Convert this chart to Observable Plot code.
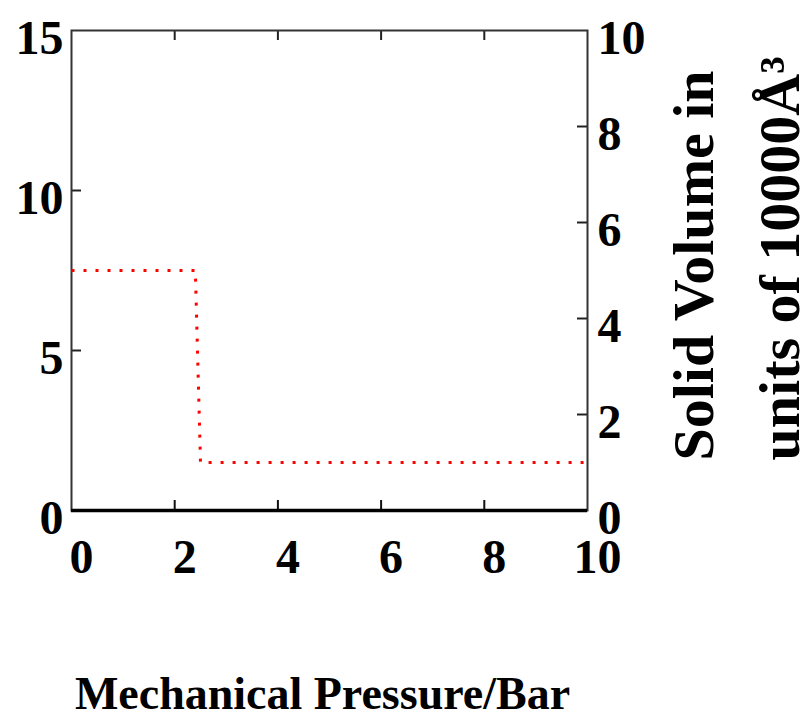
<!DOCTYPE html>
<html>
<head>
<meta charset="utf-8">
<script src="https://cdn.jsdelivr.net/npm/d3@7"></script>
<script src="https://cdn.jsdelivr.net/npm/@observablehq/plot@0.6"></script>
<style>
  html, body { margin: 0; padding: 0; background: #fff; }
  svg { display: block; }
</style>
</head>
<body>
<div id="chart"></div>
<script>
// Data (x: mechanical pressure in bar, volume: right axis units)
const pressure = [0, 2.4, 2.5, 10];
const solidVolume = [5, 5, 1, 1];

// Tick values
const xTicks = [0, 2, 4, 6, 8, 10];
const xInnerTicks = [2, 4, 6, 8];
const leftTicks = [0, 5, 10, 15];
const leftInnerTicks = [5, 10];
const rightTicks = [0, 2, 4, 6, 8, 10];
const rightInnerTicks = [2, 4, 6, 8];

// Left axis spans 0–15, right axis 0–10
const RATIO = 15 / 10;

const xLabel = "Mechanical Pressure/Bar";
const rightLabel = "Solid Volume in\nunits of 10000Å³";

const data = pressure.map((p, i) => ({p, v: solidVolume[i]}));

const font = "'Liberation Serif', 'Times New Roman', serif";
const tickLen = 10;
const plotW = 803 - 71 - 216;
const plotH = 711 - 30 - 201;

const chart = Plot.plot({
  width: 803,
  height: 711,
  marginLeft: 71,
  marginRight: 216,
  marginTop: 30,
  marginBottom: 201,
  style: {fontFamily: font, fontWeight: "bold", color: "#000", background: "#fff"},
  x: {domain: [0, 10], axis: null},
  y: {domain: [0, 15], axis: null},
  marks: [
    // inward ticks
    Plot.tickY(leftInnerTicks, {y: d => d, insetRight: plotW - tickLen, stroke: "#222", strokeWidth: 2}),
    Plot.tickY(rightInnerTicks, {y: d => d * RATIO, insetLeft: plotW - tickLen, stroke: "#222", strokeWidth: 2}),
    Plot.tickX(xInnerTicks, {x: d => d, insetBottom: plotH - tickLen, stroke: "#222", strokeWidth: 2}),
    Plot.tickX(xInnerTicks, {x: d => d, insetTop: plotH - tickLen, stroke: "#111", strokeWidth: 2}),
    Plot.frame({stroke: "#333", strokeWidth: 2}),
    Plot.ruleY([0], {stroke: "#000", strokeWidth: 3.5}),
    // tick labels
    Plot.axisY(leftTicks, {anchor: "left", tickSize: 0, tickPadding: 8, dy: 8, fontSize: 48, fontWeight: "bold", label: null}),
    Plot.axisY(rightTicks.map(d => d * RATIO), {anchor: "right", tickSize: 0, tickPadding: 10, dy: 8, fontSize: 48, fontWeight: "bold", label: null, tickFormat: d => String(Math.round(d / RATIO))}),
    Plot.axisX(xTicks, {anchor: "bottom", tickSize: 0, tickPadding: 28, dx: 10, fontSize: 48, fontWeight: "bold", label: null}),
    // data
    Plot.line(data, {x: "p", y: d => d.v * RATIO, stroke: "#ff0000", strokeWidth: 3, strokeDasharray: "3,9", strokeLinecap: "butt", curve: "linear"}),
    // axis titles
    Plot.text([xLabel], {text: d => d, frameAnchor: "bottom", lineAnchor: "bottom", dy: 198, dx: -7, fontSize: 46, fontWeight: "bold", fill: "#000"}),
    Plot.text([rightLabel], {text: d => d, frameAnchor: "bottom-right", rotate: -90, textAnchor: "start", lineAnchor: "bottom", lineHeight: 1.48, dx: 211, dy: -50, fontSize: 58, fontWeight: "bold", fill: "#000"})
  ]
});

document.getElementById("chart").appendChild(chart);
</script>
</body>
</html>
